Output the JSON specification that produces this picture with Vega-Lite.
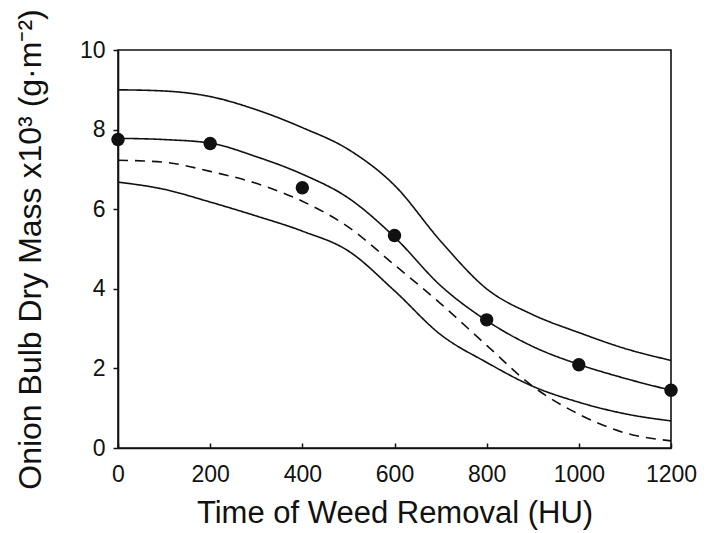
{
  "$schema": "https://vega.github.io/schema/vega-lite/v6.json",
  "width": 553,
  "height": 398,
  "autosize": {"type": "none"},
  "padding": {"left": 118, "top": 50, "right": 47, "bottom": 85},
  "background": "white",
  "config": {
    "font": "Liberation Sans",
    "view": {"stroke": "#111", "strokeWidth": 1.6},
    "axis": {
      "domainColor": "#111",
      "domainWidth": 1.6,
      "tickColor": "#111",
      "tickWidth": 1.5,
      "labelColor": "#111",
      "titleColor": "#111",
      "labelFontSize": 23,
      "titleFontWeight": "normal",
      "grid": false
    }
  },
  "datasets": {
    "curves": [
      {"series": "upper", "time": 0, "mass": 9.0},
      {"series": "upper", "time": 100, "mass": 8.97},
      {"series": "upper", "time": 200, "mass": 8.83},
      {"series": "upper", "time": 300, "mass": 8.5},
      {"series": "upper", "time": 400, "mass": 8.05},
      {"series": "upper", "time": 500, "mass": 7.5},
      {"series": "upper", "time": 600, "mass": 6.6},
      {"series": "upper", "time": 700, "mass": 5.2},
      {"series": "upper", "time": 800, "mass": 4.0},
      {"series": "upper", "time": 900, "mass": 3.35},
      {"series": "upper", "time": 1000, "mass": 2.9},
      {"series": "upper", "time": 1100, "mass": 2.5},
      {"series": "upper", "time": 1200, "mass": 2.2},
      {"series": "fitted", "time": 0, "mass": 7.78},
      {"series": "fitted", "time": 100, "mass": 7.75},
      {"series": "fitted", "time": 200, "mass": 7.66},
      {"series": "fitted", "time": 300, "mass": 7.32},
      {"series": "fitted", "time": 400, "mass": 6.88},
      {"series": "fitted", "time": 500, "mass": 6.28},
      {"series": "fitted", "time": 600, "mass": 5.3},
      {"series": "fitted", "time": 700, "mass": 4.08},
      {"series": "fitted", "time": 800, "mass": 3.2},
      {"series": "fitted", "time": 900, "mass": 2.55},
      {"series": "fitted", "time": 1000, "mass": 2.1},
      {"series": "fitted", "time": 1100, "mass": 1.75},
      {"series": "fitted", "time": 1200, "mass": 1.45},
      {"series": "dashed", "time": 0, "mass": 7.23},
      {"series": "dashed", "time": 100, "mass": 7.18},
      {"series": "dashed", "time": 200, "mass": 6.95},
      {"series": "dashed", "time": 300, "mass": 6.65},
      {"series": "dashed", "time": 400, "mass": 6.2},
      {"series": "dashed", "time": 500, "mass": 5.55},
      {"series": "dashed", "time": 600, "mass": 4.6},
      {"series": "dashed", "time": 700, "mass": 3.63},
      {"series": "dashed", "time": 800, "mass": 2.58},
      {"series": "dashed", "time": 900, "mass": 1.55},
      {"series": "dashed", "time": 1000, "mass": 0.85},
      {"series": "dashed", "time": 1100, "mass": 0.38},
      {"series": "dashed", "time": 1200, "mass": 0.18},
      {"series": "lower", "time": 0, "mass": 6.68},
      {"series": "lower", "time": 100, "mass": 6.5},
      {"series": "lower", "time": 200, "mass": 6.18},
      {"series": "lower", "time": 300, "mass": 5.83},
      {"series": "lower", "time": 400, "mass": 5.45},
      {"series": "lower", "time": 500, "mass": 4.95},
      {"series": "lower", "time": 600, "mass": 3.95},
      {"series": "lower", "time": 700, "mass": 2.85},
      {"series": "lower", "time": 800, "mass": 2.15},
      {"series": "lower", "time": 900, "mass": 1.55},
      {"series": "lower", "time": 1000, "mass": 1.15},
      {"series": "lower", "time": 1100, "mass": 0.86},
      {"series": "lower", "time": 1200, "mass": 0.68}
    ],
    "observed": [
      {"time": 0, "mass": 7.75},
      {"time": 200, "mass": 7.65},
      {"time": 400, "mass": 6.54},
      {"time": 600, "mass": 5.34},
      {"time": 800, "mass": 3.22},
      {"time": 1000, "mass": 2.09},
      {"time": 1200, "mass": 1.45}
    ]
  },
  "encoding": {
    "x": {
      "field": "time",
      "type": "quantitative",
      "scale": {"domain": [0, 1200], "nice": false},
      "axis": {
        "title": "Time of Weed Removal (HU)",
        "titleFontSize": 31,
        "values": [0, 200, 400, 600, 800, 1000, 1200],
        "format": "d",
        "tickSize": -5,
        "labelPadding": 20,
        "titlePadding": 12,
        "labelFlush": false
      }
    },
    "y": {
      "field": "mass",
      "type": "quantitative",
      "scale": {"domain": [0, 10], "nice": false},
      "axis": {
        "title": "Onion Bulb Dry Mass x10³ (g·m⁻²)",
        "titleFontSize": 32,
        "values": [0, 2, 4, 6, 8, 10],
        "tickSize": 5,
        "labelPadding": 8,
        "titlePadding": 32,
        "labelFlush": false
      }
    }
  },
  "layer": [
    {
      "data": {"name": "curves"},
      "mark": {"type": "line", "color": "#111", "strokeWidth": 1.6, "interpolate": "monotone"},
      "encoding": {
        "detail": {"field": "series"},
        "strokeDash": {
          "field": "series",
          "type": "nominal",
          "scale": {
            "domain": ["upper", "fitted", "dashed", "lower"],
            "range": [[1, 0], [1, 0], [10, 7], [1, 0]]
          },
          "legend": null
        }
      }
    },
    {
      "data": {"name": "observed"},
      "mark": {"type": "point", "filled": true, "color": "#111", "opacity": 1, "size": 180}
    }
  ]
}
